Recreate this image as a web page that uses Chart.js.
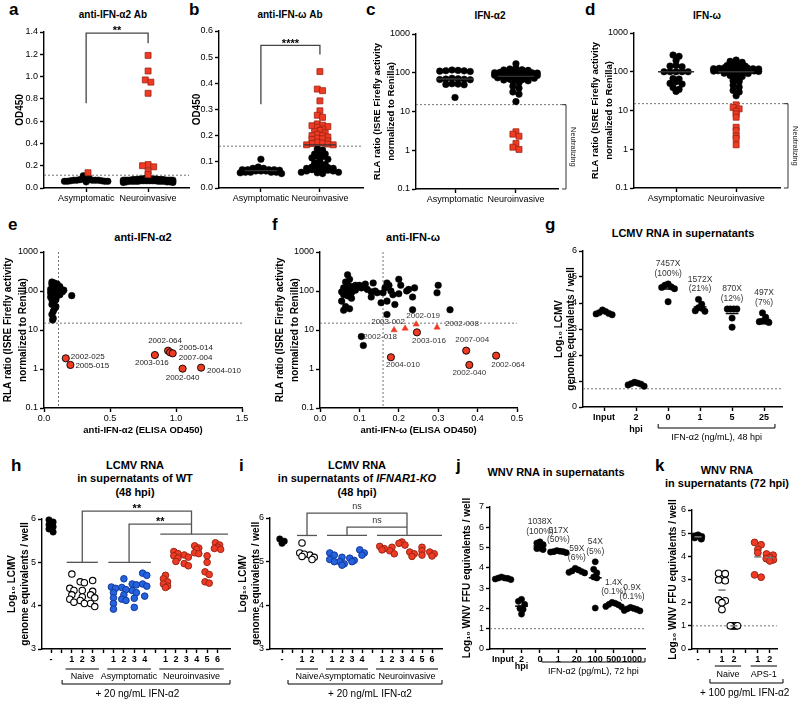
<!DOCTYPE html>
<html>
<head>
<meta charset="utf-8">
<title>Anti-IFN autoantibodies and LCMV / WNV RNA</title>
<script src="https://cdn.jsdelivr.net/npm/chart.js@4.4.1/dist/chart.umd.min.js"></script>
<style>
  body { margin: 0; background: #fff; }
  #fig { position: relative; width: 800px; height: 702px; overflow: hidden; background: #fff;
         font-family: "Liberation Sans", Arial, Helvetica, sans-serif; color: #000; }
  #fig canvas { position: absolute; }
  .lt { position: absolute; font-size: 17px; line-height: 17px; font-weight: bold; }
  .tt { position: absolute; font-size: 11px; line-height: 11px; font-weight: bold; white-space: nowrap; transform: translate(-50%, -50%); }
  .tt.r1 { font-size: 10px; line-height: 10px; }
</style>
</head>
<body>
<div id="fig">
  <div class="lt" style="left:9px;top:1px">a</div>
  <div class="lt" style="left:189px;top:1px">b</div>
  <div class="lt" style="left:366px;top:1px">c</div>
  <div class="lt" style="left:585px;top:1px">d</div>
  <div class="lt" style="left:8px;top:216px">e</div>
  <div class="lt" style="left:272px;top:216px">f</div>
  <div class="lt" style="left:545px;top:216px">g</div>
  <div class="lt" style="left:11px;top:457px">h</div>
  <div class="lt" style="left:239px;top:457px">i</div>
  <div class="lt" style="left:456px;top:457px">j</div>
  <div class="lt" style="left:655px;top:457px">k</div>

  <div class="tt r1" style="left:113px;top:15px">anti-IFN-α2 Ab</div>
  <div class="tt r1" style="left:290px;top:15px">anti-IFN-ω Ab</div>
  <div class="tt r1" style="left:490px;top:16px">IFN-α2</div>
  <div class="tt r1" style="left:707px;top:16px">IFN-ω</div>
  <div class="tt" style="left:143px;top:237px">anti-IFN-α2</div>
  <div class="tt" style="left:413px;top:237px">anti-IFN-ω</div>
  <div class="tt" style="left:683px;top:233px">LCMV RNA in supernatants</div>
  <div class="tt" style="left:135px;top:465px">LCMV RNA</div>
  <div class="tt" style="left:135px;top:478px">in supernatants of WT</div>
  <div class="tt" style="left:135px;top:492px">(48 hpi)</div>
  <div class="tt" style="left:357px;top:465px">LCMV RNA</div>
  <div class="tt" style="left:357px;top:478px">in supernatants of <i>IFNAR1-KO</i></div>
  <div class="tt" style="left:357px;top:492px">(48 hpi)</div>
  <div class="tt" style="left:556px;top:472px">WNV RNA in supernatants</div>
  <div class="tt" style="left:727px;top:470px">WNV RNA</div>
  <div class="tt" style="left:727px;top:483px">in supernatants (72 hpi)</div>
</div>

<script>
// ---------- data ----------
const groupNames = ["Asymptomatic", "Neuroinvasive"];

// a: anti-IFN-α2 ELISA OD450
const aAsymBlack = [0.11, 0.09, 0.08, 0.08, 0.075, 0.075, 0.07, 0.07, 0.07, 0.07, 0.065, 0.065, 0.06, 0.06, 0.06, 0.055, 0.06, 0.07];
const aAsymRed = [0.137];
const aNeuroBlack = [0.09, 0.085, 0.085, 0.08, 0.08, 0.08, 0.08, 0.075, 0.075, 0.075, 0.075, 0.075, 0.07, 0.07, 0.07, 0.07, 0.07, 0.07, 0.07,
  0.065, 0.065, 0.065, 0.065, 0.065, 0.06, 0.06, 0.06, 0.06, 0.06, 0.06, 0.055, 0.055, 0.055, 0.05, 0.05, 0.07, 0.075, 0.08, 0.06, 0.065];
const aNeuroRed = [1.19, 1.05, 0.97, 0.95, 0.85, 0.21, 0.2, 0.19, 0.15, 0.12];
const aCutoff = 0.115;

// b: anti-IFN-ω ELISA OD450
const bAsymBlack = [0.11, 0.08, 0.075, 0.075, 0.07, 0.07, 0.07, 0.068, 0.065, 0.065, 0.065, 0.06, 0.06, 0.06, 0.06, 0.058, 0.055, 0.07];
const bNeuroBlack = [0.15, 0.145, 0.135, 0.13, 0.13, 0.12, 0.12, 0.115, 0.11, 0.1, 0.095, 0.09, 0.085, 0.08, 0.08, 0.078, 0.075, 0.075,
  0.072, 0.07, 0.07, 0.068, 0.065, 0.065, 0.06, 0.06, 0.058, 0.055];
const bNeuroRed = [0.445, 0.378, 0.372, 0.333, 0.295, 0.278, 0.27, 0.245, 0.24, 0.238, 0.235, 0.232, 0.225, 0.22, 0.215, 0.21, 0.205,
  0.2, 0.2, 0.195, 0.19, 0.188, 0.185, 0.18, 0.175, 0.172, 0.17, 0.168, 0.165, 0.165];
const bCutoff = 0.16;

// c: IFN-α2 neutralisation (RLA ratio)
const cAsym = [118, 115, 113, 112, 110, 108, 72, 70, 69, 68, 67, 66, 52, 51, 50, 49, 23];
const cNeuroBlack = [170, 130, 125, 120, 118, 115, 112, 110, 108, 105, 105, 102, 100, 100, 98, 96, 95, 92, 90, 90, 88, 86, 85, 82, 80,
  78, 76, 75, 74, 72, 70, 68, 66, 65, 62, 60, 55, 45, 40, 32, 28, 18];
const cNeuroRed = [3.0, 2.6, 2.3, 1.5, 1.2, 1.05];

// d: IFN-ω neutralisation
const dAsym = [270, 250, 195, 145, 140, 135, 100, 100, 100, 100, 100, 67, 65, 55, 50, 48, 39, 35, 31];
const dNeuroBlack = [200, 185, 175, 160, 150, 145, 140, 135, 130, 130, 128, 125, 122, 120, 120, 118, 116, 115, 113, 112, 110, 110,
  108, 106, 105, 104, 102, 100, 98, 95, 92, 90, 85, 80, 75, 68, 62, 58, 55, 45, 40, 33, 30, 24];
const dNeuroRed = [14, 12, 11, 9.6, 8.2, 6.7, 3.7, 3.0, 2.2, 1.9, 1.3];
const neutCutoff = 15;

// e: anti-IFN-α2 OD vs RLA
const eBlackX = [0.06, 0.08, 0.1, 0.12, 0.07, 0.09, 0.11, 0.13, 0.15, 0.06, 0.08, 0.1, 0.07, 0.06, 0.09, 0.12, 0.14, 0.21, 0.06, 0.08,
  0.07, 0.06, 0.09, 0.08, 0.07, 0.06, 0.07, 0.065, 0.1, 0.11, 0.05, 0.05, 0.07, 0.08, 0.09, 0.06, 0.07, 0.08, 0.1, 0.12, 0.06, 0.07,
  0.05, 0.08, 0.09];
const eBlackY = [170, 160, 150, 130, 120, 110, 100, 100, 105, 100, 90, 85, 80, 75, 70, 80, 95, 76, 60, 55, 50, 45, 40, 35, 30, 25, 20,
  18, 95, 120, 90, 70, 140, 125, 115, 85, 65, 105, 75, 110, 150, 95, 110, 70, 60];
const eRedX = [0.165, 0.2, 0.84, 0.94, 0.955, 0.975, 1.05, 1.19];
const eRedY = [1.88, 1.27, 2.28, 2.95, 2.67, 2.52, 1.02, 1.08];
const eRedIds = ["2002-025", "2005-015", "2003-016", "2002-064", "2005-014", "2007-004", "2002-040", "2004-010"];

// f: anti-IFN-ω OD vs RLA
const fBlackX = [0.07, 0.075, 0.065, 0.07, 0.08, 0.06, 0.075, 0.065, 0.055, 0.085, 0.09, 0.1, 0.08, 0.06, 0.07, 0.055, 0.08, 0.065,
  0.06, 0.075, 0.07, 0.08, 0.09, 0.115, 0.11, 0.12, 0.105, 0.135, 0.13, 0.14, 0.13, 0.145, 0.155, 0.17, 0.175, 0.165, 0.18, 0.17,
  0.17, 0.185, 0.19, 0.2, 0.205, 0.2, 0.22, 0.225, 0.235, 0.24, 0.235, 0.3, 0.297, 0.33, 0.105, 0.11, 0.16];
const fBlackY = [260, 200, 170, 150, 130, 120, 110, 100, 95, 120, 140, 140, 90, 80, 75, 55, 65, 40, 32, 35, 110, 100, 105, 150, 130,
  110, 120, 160, 95, 100, 70, 90, 50, 160, 140, 120, 100, 55, 25, 80, 45, 200, 140, 85, 100, 110, 70, 120, 33, 140, 90, 33, 6.8, 4.0, 90];
const fRedX = [0.246, 0.18, 0.371, 0.379, 0.447];
const fRedY = [8.7, 2.0, 2.95, 1.27, 2.2];
const fRedIds = ["2003-016", "2004-010", "2007-004", "2002-040", "2002-064"];
const fTriX = [0.188, 0.216, 0.244, 0.297];
const fTriY = [10, 11, 14, 11.7];
const fTriIds = ["2002-018", "2003-002", "2002-019", "2002-008"];

// g: LCMV RNA, log10 genome equivalents
const gLabels = ["Input", "2", "0", "1", "5", "25"];
const gInput = [3.55, 3.73, 3.67, 3.63, 3.6, 3.58];
const g2hpi = [0.88, 0.95, 0.9, 0.92, 0.85, 0.8];
const g0 = [4.73, 4.68, 4.6, 4.62, 4.55, 4.05];
const g1 = [4.14, 3.95, 3.8, 3.82, 3.7, 3.68];
const g5 = [3.77, 3.77, 3.77, 3.77, 3.42, 3.07];
const g25 = [3.62, 3.45, 3.3, 3.28, 3.3, 3.25];
const gFold = ["7457X", "1572X", "870X", "497X"];
const gPct = ["(100%)", "(21%)", "(12%)", "(7%)"];
const gLimit = 0.7;

// h: WT cells, 20 ng/mL IFN-α2
const hCtrl = [5.98, 5.93, 5.87, 5.82, 5.77, 5.7];
const hNaive = [[4.73, 4.4, 4.35, 4.25, 4.15, 4.08], [4.55, 4.53, 4.35, 4.2, 4.12, 4.05], [4.58, 4.33, 4.25, 4.18, 4.05, 3.98]];
const hAsym = [[4.43, 4.4, 4.3, 4.18, 4.05, 3.92], [4.62, 4.42, 4.37, 4.25, 4.15, 4.12], [4.5, 4.48, 4.35, 4.3, 4.17, 3.96],
  [4.75, 4.7, 4.5, 4.45, 4.22]];
const hNeuro = [[4.7, 4.62, 4.55, 4.5, 4.45, 4.42], [5.25, 5.2, 5.15, 5.1, 5.02], [5.17, 5.12, 4.97, 4.92], [5.38, 5.33, 5.3, 5.22, 5.2],
  [5.15, 5.0, 4.78, 4.72, 4.55, 4.52], [5.45, 5.4, 5.35, 5.32, 5.3]];

// i: IFNAR1-KO cells
const iCtrl = [5.52, 5.47, 5.42];
const iNaive = [[5.43, 5.2, 5.17, 5.12], [5.15, 5.1, 5.05]];
const iAsym = [[5.2, 5.15, 5.05, 5.0], [5.1, 5.0, 4.95, 4.92], [5.08, 5.03, 5.0], [5.27, 5.2, 5.15]];
const iNeuro = [[5.35, 5.3, 5.27], [5.33, 5.25, 5.18], [5.45, 5.42, 5.38], [5.22, 5.18, 5.12], [5.33, 5.25, 5.15], [5.22, 5.18, 5.13]];

// j: WNV RNA, log10 FFU equivalents
const jLabels = ["Input", "2", "0", "1", "20", "100", "500", "1000"];
const jInput = [3.55, 3.5, 3.48, 3.45, 3.42, 3.5];
const j2hpi = [2.45, 2.35, 2.2, 2.0, 1.95, 1.72];
const j0 = [5.28, 5.22, 5.15, 4.97, 4.95, 4.9];
const j1 = [4.85, 4.82, 4.8, 4.8, 4.78, 4.75];
const j20 = [3.98, 3.9, 3.85, 3.82, 3.78, 3.75];
const j100 = [4.3, 3.93, 3.75, 3.55, 3.5, 2.02];
const j500 = [2.3, 2.25, 2.2, 2.18, 2.1, 2.08];
const j1000 = [2.05, 2.0, 1.98, 1.95, 1.9, 1.88];
const jFold = ["1038X", "517X", "59X", "54X", "1.4X", "0.9X"];
const jPct = ["(100%)", "(50%)", "(6%)", "(5%)", "(0.1%)", "(0.1%)"];
const jLimit = 1.0;

// k: WNV RNA, 100 pg/mL IFN-α2
const kCtrl = [4.92, 4.88, 4.85, 4.8, 4.75];
const kNaive = [[3.27, 3.25, 2.98, 2.95, 2.12, 2.08, 2.0, 1.7], [1.0, 1.0, 1.0, 1.0, 1.0, 1.0]];
const kAps = [[4.6, 4.5, 4.3, 4.15, 3.2, 3.1], [4.1, 4.05, 3.95, 3.9, 3.85, 3.8]];
const kLimit = 1.0;

// ---------- helpers ----------
const FONT = '"Liberation Sans", Arial, Helvetica, sans-serif';
const NARROW = '"Liberation Sans Narrow", "Liberation Sans", Arial, sans-serif';
const RED = "#ef3b24", RED_EDGE = "#9c2414", BLUE = "#2462e0", BLUE_EDGE = "#123a99";
const LOG_TICKS = [0.1, 1, 10, 100, 1000];
const fig = document.getElementById("fig");
Chart.defaults.font.family = FONT;

function range(a, b, s) { const o = []; for (let v = a; v <= b + 1e-9; v += s) o.push(+v.toFixed(6)); return o; }
function mean(a) { return a.reduce((s, v) => s + v, 0) / a.length; }
function median(a) {
  const s = [...a].sort((p, q) => p - q), n = s.length;
  return n % 2 ? s[(n - 1) / 2] : (s[n / 2 - 1] + s[n / 2]) / 2;
}

// spread points of one group sideways, Prism style (rows of similar values)
function swarm(vals, cx, dx, dy, maxW, log) {
  const v = vals.map(y => ({ y, k: log ? Math.log10(y) : y })).sort((p, q) => q.k - p.k);
  const out = [];
  let i = 0;
  while (i < v.length) {
    let j = i;
    while (j < v.length && v[i].k - v[j].k <= dy) j++;
    const n = j - i;
    let step = dx;
    if (maxW && n > 1 && (n - 1) * dx > maxW) step = maxW / (n - 1);
    const slots = [...Array(n).keys()].map(m => (m - (n - 1) / 2) * step).sort((p, q) => Math.abs(p) - Math.abs(q));
    for (let m = 0; m < n; m++) out.push({ x: cx + slots[m], y: v[i + m].y });
    i = j;
  }
  return out;
}
const pairs = (xs, ys) => xs.map((x, i) => ({ x, y: ys[i] }));

function dot(data, fill, edge, r, w, style) {
  return { data, pointStyle: style || "circle", pointRadius: r, pointHoverRadius: r, backgroundColor: fill, borderColor: edge, borderWidth: w };
}
const blackDots = (data, r) => dot(data, "#000", "#000", r || 3.3, 0.5);
const redSquares = data => dot(data, RED, RED_EDGE, 4.2, 0.8, "rect");

function seg(ctx, pts, color, w, dash) {
  ctx.save();
  ctx.strokeStyle = color; ctx.lineWidth = w; ctx.setLineDash(dash || []);
  ctx.beginPath();
  pts.forEach((p, i) => (i ? ctx.lineTo(p[0], p[1]) : ctx.moveTo(p[0], p[1])));
  ctx.stroke();
  ctx.restore();
}
function txt(ctx, s, x, y, font, color, align, base, rot) {
  ctx.save();
  ctx.font = font; ctx.fillStyle = color || "#000";
  ctx.textAlign = align || "center"; ctx.textBaseline = base || "middle";
  ctx.translate(x, y);
  if (rot) ctx.rotate(rot);
  ctx.fillText(s, 0, 0);
  ctx.restore();
}
const dashed = (ctx, x1, y1, x2, y2) => seg(ctx, [[x1, y1], [x2, y2]], "#666", 0.9, [2, 2]);

function panel(s) {
  const [bx, by, bw, bh] = s.box;
  const [l, t, r, b] = s.plot;
  const cv = document.createElement("canvas");
  cv.width = bw; cv.height = bh;
  cv.style.left = bx + "px"; cv.style.top = by + "px";
  fig.appendChild(cv);
  const yt = s.yTitle;
  const yLeft = yt.x - yt.size * yt.lh / 2;
  const yW = l - yLeft;
  const xH = s.xTitle ? s.xTitle.y + s.xTitle.size * 0.6 - b : s.xH;
  const pad = { left: yLeft - bx, top: t - by, right: bx + bw - r, bottom: by + bh - b - xH };
  const axis = () => ({
    border: { display: true, color: "#000", width: 1.4 },
    grid: { display: true, drawOnChartArea: false, drawTicks: true, tickLength: 4, tickWidth: 1.4, tickColor: "#000" }
  });
  const scales = {
    x: Object.assign(axis(), {
      type: "linear", min: s.x.min, max: s.x.max,
      afterBuildTicks: sc => { sc.ticks = s.x.ticks.map(v => ({ value: v })); },
      afterFit: sc => { sc.height = xH; },
      ticks: { autoSkip: false, maxRotation: 0, minRotation: 0, padding: 1, color: "#000",
        font: { family: FONT, size: 9, weight: s.x.bold ? "bold" : "normal" }, callback: s.x.label },
      title: s.xTitle
        ? { display: true, text: s.xTitle.text, color: "#000", padding: 0, font: { family: FONT, size: s.xTitle.size, weight: "bold", lineHeight: 1.2 } }
        : { display: false }
    }),
    y: Object.assign(axis(), {
      type: s.y.log ? "logarithmic" : "linear", min: s.y.min, max: s.y.max,
      afterBuildTicks: sc => { sc.ticks = s.y.ticks.map(v => ({ value: v })); },
      afterFit: sc => { sc.width = yW; },
      ticks: { autoSkip: false, padding: 2, color: "#000", font: { family: FONT, size: 9 }, callback: s.y.label },
      title: { display: true, text: yt.text, color: "#000", padding: 0, font: { family: FONT, size: yt.size, weight: "bold", lineHeight: yt.lh } }
    })
  };
  const hook = fn => chart => {
    if (!fn) return;
    const sx = chart.scales.x, sy = chart.scales.y;
    chart.ctx.save();
    fn(chart.ctx, v => sx.getPixelForValue(v), v => sy.getPixelForValue(v), chart.chartArea);
    chart.ctx.restore();
  };
  return new Chart(cv, {
    type: "scatter",
    data: { datasets: s.datasets.map(d => Object.assign({ clip: false }, d)) },
    options: {
      responsive: false, animation: false, devicePixelRatio: 1, events: [],
      layout: { padding: pad },
      plugins: { legend: { display: false }, tooltip: { enabled: false } },
      scales
    },
    plugins: [{ id: "marks", beforeDatasetsDraw: hook(s.under), afterDraw: hook(s.over) }]
  });
}

function medianBars(ctx, X, Y, groups, w) {
  groups.forEach((vals, i) => {
    const m = median(vals);
    seg(ctx, [[X(i - w / 2), Y(m)], [X(i + w / 2), Y(m)]], "#333", 1.3);
  });
}
function meanBars(ctx, X, Y, groups, w, color) {
  groups.forEach((vals, i) => {
    const m = mean(vals);
    seg(ctx, [[X(i - w / 2), Y(m)], [X(i + w / 2), Y(m)]], color, 1.5);
  });
}
function neutralBracket(ctx, Y, A) {
  const yN = Y(neutCutoff), y0 = Y(0.1), x = A.right + 8;
  seg(ctx, [[A.right + 4, yN], [x, yN], [x, y0], [A.right + 4, y0]], "#333", 1);
  txt(ctx, "Neutralizing", A.right + 15, (yN + y0) / 2, "7.5px " + FONT, "#222", "center", "middle", Math.PI / 2);
}
function groupAxis(ctx, X, A, g) {
  g.names.forEach((name, i) => {
    const a = X(g.starts[i] - 0.6), b = X(g.starts[i] + g.sizes[i] - 0.4);
    seg(ctx, [[a, A.bottom + g.lineY], [b, A.bottom + g.lineY]], "#000", 1);
    txt(ctx, name, (a + b) / 2, A.bottom + g.nameY, "9px " + FONT, "#000");
  });
  const y = A.bottom + g.brY, x1 = X(g.brFrom), x2 = X(g.brTo);
  seg(ctx, [[x1, y - 4], [x1, y], [x2, y], [x2, y - 4]], "#000", 1);
  txt(ctx, g.brText, X(g.brTextX), A.bottom + g.brTextY, "10px " + FONT, "#000");
}
function groupStarts(sizes) {
  const starts = [];
  let p = 2;
  sizes.forEach(n => { starts.push(p); p += n + 1; });
  return starts;
}
function foldNotes(ctx, X, Y, groups, first, fold, pct) {
  fold.forEach((f, k) => {
    const i = k + first, top = Y(Math.max(...groups[i]));
    txt(ctx, f, X(i), top - 20, "8.5px " + NARROW, "#333");
    txt(ctx, pct[k], X(i), top - 10.5, "8.5px " + NARROW, "#333");
  });
}
const nameLabel = v => groupNames[v];
const logLabel = v => String(v);

// ---------- a ----------
panel({
  box: [0, 18, 200, 196], plot: [44, 32, 189, 188],
  yTitle: { text: "OD450", x: 20, size: 10, lh: 1.2 }, xH: 20,
  x: { min: -0.68, max: 1.66, ticks: [0, 1], label: nameLabel },
  y: { min: 0, max: 1.4, ticks: range(0, 1.4, 0.2), label: v => v.toFixed(1) },
  datasets: [
    redSquares(swarm(aNeuroRed, 1, 0.09, 0.0225, 0.7)),
    redSquares(swarm(aAsymRed, 0.03, 0.09, 0.0225, 0.7)),
    blackDots(swarm(aAsymBlack, 0, 0.09, 0.0225, 0.7)),
    blackDots(swarm(aNeuroBlack, 1, 0.09, 0.0225, 0.8))
  ],
  under(ctx, X, Y, A) { dashed(ctx, A.left, Y(aCutoff), A.right, Y(aCutoff)); },
  over(ctx, X, Y, A) {
    const x0 = X(0), x1 = X(1), yt = Y(1.39);
    seg(ctx, [[x0, Y(0.76)], [x0, yt], [x1, yt], [x1, Y(1.3)]], "#444", 1.3);
    txt(ctx, "**", (x0 + x1) / 2, yt + 1, "bold 11px " + FONT, "#000", "center", "alphabetic");
  }
});

// ---------- b ----------
panel({
  box: [180, 18, 200, 196], plot: [219, 31, 363, 188],
  yTitle: { text: "OD450", x: 197, size: 10, lh: 1.2 }, xH: 20,
  x: { min: -0.71, max: 1.73, ticks: [0, 1], label: nameLabel },
  y: { min: 0, max: 0.6, ticks: range(0, 0.6, 0.1), label: v => v.toFixed(1) },
  datasets: [
    redSquares(swarm(bNeuroRed, 1, 0.09, 0.012, 0.75)),
    blackDots(swarm(bAsymBlack, 0, 0.09, 0.012, 0.7)),
    blackDots(swarm(bNeuroBlack, 1, 0.09, 0.012, 0.75))
  ],
  under(ctx, X, Y, A) { dashed(ctx, A.left, Y(bCutoff), A.right, Y(bCutoff)); },
  over(ctx, X, Y, A) {
    medianBars(ctx, X, Y, [bAsymBlack, [...bNeuroBlack, ...bNeuroRed]], 0.55);
    const x0 = X(0), x1 = X(1), yt = Y(0.545);
    seg(ctx, [[x0, Y(0.32)], [x0, yt], [x1, yt], [x1, Y(0.51)]], "#444", 1.3);
    txt(ctx, "****", (x0 + x1) / 2, yt + 2, "bold 11px " + FONT, "#000", "center", "alphabetic");
  }
});

// ---------- c ----------
const rlaTitle = ["RLA ratio (ISRE Firefly activity", "normalized to Renilla)"];
panel({
  box: [360, 18, 220, 196], plot: [416, 34, 558, 189],
  yTitle: { text: rlaTitle, x: 377, size: 9.5, lh: 1.55 }, xH: 20,
  x: { min: -0.64, max: 1.69, ticks: [0, 1], label: nameLabel },
  y: { log: true, min: 0.1, max: 1000, ticks: LOG_TICKS, label: logLabel },
  datasets: [
    redSquares(swarm(cNeuroRed, 1, 0.1, 0.06, 0.7, true)),
    blackDots(swarm(cAsym, 0, 0.1, 0.06, 0.7, true)),
    blackDots(swarm(cNeuroBlack, 1, 0.1, 0.06, 0.7, true))
  ],
  under(ctx, X, Y, A) { dashed(ctx, A.left, Y(neutCutoff), A.right + 8, Y(neutCutoff)); },
  over(ctx, X, Y, A) {
    medianBars(ctx, X, Y, [cAsym, [...cNeuroBlack, ...cNeuroRed]], 0.6);
    neutralBracket(ctx, Y, A);
  }
});

// ---------- d ----------
panel({
  box: [578, 18, 222, 196], plot: [634, 33, 780, 188],
  yTitle: { text: rlaTitle, x: 595, size: 9.5, lh: 1.55 }, xH: 20,
  x: { min: -0.7, max: 1.73, ticks: [0, 1], label: nameLabel },
  y: { log: true, min: 0.1, max: 1000, ticks: LOG_TICKS, label: logLabel },
  datasets: [
    redSquares(swarm(dNeuroRed, 1, 0.1, 0.06, 0.7, true)),
    blackDots(swarm(dAsym, 0, 0.1, 0.06, 0.7, true)),
    blackDots(swarm(dNeuroBlack, 1, 0.1, 0.06, 0.75, true))
  ],
  under(ctx, X, Y, A) { dashed(ctx, A.left, Y(neutCutoff), A.right + 8, Y(neutCutoff)); },
  over(ctx, X, Y, A) {
    medianBars(ctx, X, Y, [dAsym, [...dNeuroBlack, ...dNeuroRed]], 0.6);
    neutralBracket(ctx, Y, A);
  }
});

// ---------- e ----------
const eLabelPos = [[5, -2, "left"], [5, 1, "left"], [-3, 8, "center"], [-3, -10, "center"], [9, -5, "left"], [6, 4, "left"], [0, 9, "center"], [6, 3, "left"]];
panel({
  box: [0, 240, 265, 205], plot: [44, 252, 242, 408],
  yTitle: { text: rlaTitle, x: 8, size: 10, lh: 1.5 },
  xTitle: { text: "anti-IFN-α2 (ELISA OD450)", y: 430, size: 9.5 },
  x: { min: 0, max: 1.5, ticks: [0, 0.5, 1, 1.5], label: v => v.toFixed(1) },
  y: { log: true, min: 0.1, max: 1000, ticks: LOG_TICKS, label: logLabel },
  datasets: [
    dot(pairs(eRedX, eRedY), RED, "#000", 3.6, 0.9),
    blackDots(pairs(eBlackX, eBlackY))
  ],
  under(ctx, X, Y, A) {
    dashed(ctx, X(aCutoff - 0.005), A.top, X(aCutoff - 0.005), A.bottom);
    dashed(ctx, A.left, Y(neutCutoff), A.right, Y(neutCutoff));
  },
  over(ctx, X, Y, A) {
    eRedIds.forEach((id, i) => {
      const [dx, dy, al] = eLabelPos[i];
      txt(ctx, id, X(eRedX[i]) + dx, Y(eRedY[i]) + dy, "8px " + FONT, "#222", al);
    });
  }
});

// ---------- f ----------
const fRedPos = [[12, 8], [12, 8], [6, -11], [0, 8], [12, 9]];
const fTriPos = [[-14, 7, "center"], [-17, -7, "center"], [7, -9, "center"], [8, -4, "left"]];
panel({
  box: [268, 240, 262, 205], plot: [320, 252, 517, 408],
  yTitle: { text: rlaTitle, x: 280, size: 10, lh: 1.5 },
  xTitle: { text: "anti-IFN-ω (ELISA OD450)", y: 430, size: 9.5 },
  x: { min: 0, max: 0.5, ticks: range(0, 0.5, 0.1), label: v => v.toFixed(1) },
  y: { log: true, min: 0.1, max: 1000, ticks: LOG_TICKS, label: logLabel },
  datasets: [
    dot(pairs(fRedX, fRedY), RED, "#000", 3.6, 0.9),
    dot(pairs(fTriX, fTriY), RED, RED, 3.6, 0.5, "triangle"),
    blackDots(pairs(fBlackX, fBlackY))
  ],
  under(ctx, X, Y, A) {
    dashed(ctx, X(bCutoff), A.top, X(bCutoff), A.bottom);
    dashed(ctx, A.left, Y(neutCutoff), A.right, Y(neutCutoff));
  },
  over(ctx, X, Y, A) {
    fRedIds.forEach((id, i) => txt(ctx, id, X(fRedX[i]) + fRedPos[i][0], Y(fRedY[i]) + fRedPos[i][1], "8px " + FONT, "#333"));
    fTriIds.forEach((id, i) => txt(ctx, id, X(fTriX[i]) + fTriPos[i][0], Y(fTriY[i]) + fTriPos[i][1], "8px " + FONT, "#333", fTriPos[i][2]));
  }
});

// ---------- g ----------
const gGroups = [gInput, g2hpi, g0, g1, g5, g25];
panel({
  box: [540, 240, 260, 205], plot: [583, 251, 782, 407],
  yTitle: { text: ["Log₁₀ LCMV", "genome equivalents / well"], x: 559, size: 10, lh: 1.25 }, xH: 16,
  x: { min: -0.66, max: 5.56, ticks: range(0, 5, 1), label: v => gLabels[v], bold: true },
  y: { min: 0, max: 6, ticks: range(0, 6, 1), label: v => String(v) },
  datasets: gGroups.map((vals, i) => blackDots(swarm(vals, i, 0.1, 0.2, 0.6), 3.2)),
  under(ctx, X, Y, A) { dashed(ctx, A.left, Y(gLimit), A.right, Y(gLimit)); },
  over(ctx, X, Y, A) {
    meanBars(ctx, X, Y, gGroups, 0.4, "#000");
    foldNotes(ctx, X, Y, gGroups, 2, gFold, gPct);
    txt(ctx, "hpi", X(1), A.bottom + 23, "bold 9px " + FONT);
    const y = A.bottom + 21, x1 = X(1.69), x2 = X(5.34);
    seg(ctx, [[x1, y - 4], [x1, y], [x2, y], [x2, y - 4]], "#000", 1);
    txt(ctx, "IFN-α2 (ng/mL), 48 hpi", (x1 + x2) / 2, A.bottom + 31, "9px " + FONT);
  }
});

// ---------- h ----------
function groupedPanel(spec) {
  const starts = groupStarts(spec.sets.map(s => s.length));
  const labels = { 0: "-" };
  const datasets = [];
  spec.sets.forEach((set, g) => set.forEach((vals, m) => {
    const p = starts[g] + m;
    labels[p] = String(m + 1);
    datasets.push(spec.style[g](swarm(vals, p, spec.dx, spec.dy, spec.maxW)));
  }));
  datasets.push(blackDots(swarm(spec.ctrl, 0, spec.dx, spec.dy, spec.maxW), spec.r));
  const last = starts[starts.length - 1] + spec.sets[spec.sets.length - 1].length - 1;
  return { starts, labels, datasets, last };
}
const whiteDots = r => d => dot(d, "#fff", "#000", r, 1.1);
const blueDots = r => d => dot(d, BLUE, BLUE_EDGE, r, 1);
const redDots = r => d => dot(d, RED, RED_EDGE, r, 1);
const lcmvTitle = ["Log₁₀ LCMV", "genome equivalents / well"];

const H = groupedPanel({ sets: [hNaive, hAsym, hNeuro], ctrl: hCtrl, style: [whiteDots(3.2), blueDots(3.3), redDots(3.3)], dx: 0.4, dy: 0.08, maxW: 0.6, r: 3.2 });
panel({
  box: [0, 450, 240, 252], plot: [42, 519, 230, 649],
  yTitle: { text: lcmvTitle, x: 12, size: 10, lh: 1.3 }, xH: 16,
  x: { min: -0.87, max: 17.2, ticks: range(0, H.last, 1), label: v => H.labels[v] || "", bold: true },
  y: { min: 3, max: 6, ticks: range(3, 6, 1), label: v => String(v) },
  datasets: H.datasets,
  over(ctx, X, Y, A) {
    const [sN, sA, sR] = H.starts;
    const cN = X(sN + 1), cA = X(sA + 1.5), cR = X(sR + 2.5);
    seg(ctx, [[X(sN - 0.5), Y(5)], [X(sN + 2.5), Y(5)]], "#555", 1.3);
    seg(ctx, [[X(sA - 0.5), Y(5)], [X(sA + 3.6), Y(5)]], "#555", 1.3);
    seg(ctx, [[X(sR - 0.5), Y(5.65)], [X(sR + 6), Y(5.65)]], "#555", 1.3);
    seg(ctx, [[cN, Y(5)], [cN, Y(6.18)], [cR, Y(6.18)], [cR, Y(5.65)]], "#555", 1.3);
    seg(ctx, [[cA, Y(5)], [cA, Y(5.88)], [cR, Y(5.88)]], "#555", 1.3);
    txt(ctx, "**", (cN + cR) / 2, Y(6.18) + 1, "bold 11px " + FONT, "#000", "center", "alphabetic");
    txt(ctx, "**", (cA + cR) / 2, Y(5.88) + 1, "bold 11px " + FONT, "#000", "center", "alphabetic");
    groupAxis(ctx, X, A, { names: ["Naive", "Asymptomatic", "Neuroinvasive"], starts: H.starts, sizes: [3, 4, 6],
      lineY: 20, nameY: 28, brY: 35, brFrom: 1.06, brTo: 17.2, brText: "+ 20 ng/mL IFN-α2", brTextX: 8.3, brTextY: 45 });
  }
});

// ---------- i ----------
const I = groupedPanel({ sets: [iNaive, iAsym, iNeuro], ctrl: iCtrl, style: [whiteDots(3.2), blueDots(3.3), redDots(3.3)], dx: 0.45, dy: 0.08, maxW: 0.6, r: 3.2 });
panel({
  box: [232, 450, 218, 252], plot: [270, 518, 442, 649],
  yTitle: { text: lcmvTitle, x: 243, size: 10, lh: 1.3 }, xH: 16,
  x: { min: -1.2, max: 16, ticks: range(0, I.last, 1), label: v => I.labels[v] || "", bold: true },
  y: { min: 3, max: 6, ticks: range(3, 6, 1), label: v => String(v) },
  datasets: I.datasets,
  over(ctx, X, Y, A) {
    const [sN, sA, sR] = I.starts;
    const cN = X(sN + 0.5), cA = X(sA + 1.5), cR = X(sR + 2.5), yl = Y(5.6);
    seg(ctx, [[X(sN - 0.5), yl], [X(sN + 1.5), yl]], "#555", 1.3);
    seg(ctx, [[X(sA - 0.5), yl], [X(sA + 3.5), yl]], "#555", 1.3);
    seg(ctx, [[X(sR - 0.5), yl], [X(sR + 6), yl]], "#555", 1.3);
    seg(ctx, [[cN, yl], [cN, Y(6.11)], [cR, Y(6.11)], [cR, yl]], "#555", 1.3);
    seg(ctx, [[cA, yl], [cA, Y(5.79)], [cR, Y(5.79)]], "#555", 1.3);
    txt(ctx, "ns", (cN + cR) / 2, Y(6.11) - 4, "9px " + FONT, "#333", "center", "alphabetic");
    txt(ctx, "ns", (cA + cR) / 2, Y(5.79) - 4, "9px " + FONT, "#333", "center", "alphabetic");
    groupAxis(ctx, X, A, { names: ["Naive", "Asymptomatic", "Neuroinvasive"], starts: I.starts, sizes: [2, 4, 6],
      lineY: 20, nameY: 28, brY: 35, brFrom: 0.6, brTo: 16, brText: "+ 20 ng/mL IFN-α2", brTextX: 8.8, brTextY: 45 });
  }
});

// ---------- j ----------
const jGroups = [jInput, j2hpi, j0, j1, j20, j100, j500, j1000];
panel({
  box: [450, 450, 200, 252], plot: [490, 507, 645, 649],
  yTitle: { text: "Log₁₀ WNV FFU equivalents / well", x: 467, size: 10, lh: 1.2 }, xH: 16,
  x: { min: -0.71, max: 7.7, ticks: range(0, 7, 1), label: v => jLabels[v], bold: true },
  y: { min: 0, max: 7, ticks: range(0, 7, 1), label: v => String(v) },
  datasets: jGroups.map((vals, i) => blackDots(swarm(vals, i, 0.17, 0.25, 0.9), 3.1)),
  under(ctx, X, Y, A) { dashed(ctx, A.left, Y(jLimit), A.right, Y(jLimit)); },
  over(ctx, X, Y, A) {
    meanBars(ctx, X, Y, jGroups, 0.7, "#000");
    foldNotes(ctx, X, Y, jGroups, 2, jFold, jPct);
    txt(ctx, "hpi", X(1), A.bottom + 18, "bold 9px " + FONT);
    const y = A.bottom + 13, x1 = X(2.1), x2 = X(7.7);
    seg(ctx, [[x1, y - 4], [x1, y], [x2, y], [x2, y - 4]], "#000", 1);
    txt(ctx, "IFN-α2 (pg/mL), 72 hpi", (x1 + x2) / 2, A.bottom + 23, "9px " + FONT);
  }
});

// ---------- k ----------
const K = groupedPanel({ sets: [kNaive, kAps], ctrl: kCtrl, style: [whiteDots(3.3), redDots(3.4)], dx: 0.55, dy: 0.12, maxW: 0.6, r: 3.3 });
panel({
  box: [650, 450, 150, 252], plot: [692, 510, 777, 649],
  yTitle: { text: "Log₁₀ WNV FFU equivalents / well", x: 673, size: 10, lh: 1.2 }, xH: 16,
  x: { min: -0.5, max: 6.6, ticks: range(0, K.last, 1), label: v => K.labels[v] || "", bold: true },
  y: { min: 0, max: 6, ticks: range(0, 6, 1), label: v => String(v) },
  datasets: K.datasets,
  under(ctx, X, Y, A) { dashed(ctx, A.left, Y(kLimit), A.right, Y(kLimit)); },
  over(ctx, X, Y, A) {
    const sets = [kCtrl, null, ...kNaive, null, ...kAps];
    sets.forEach((vals, p) => {
      if (!vals) return;
      const m = mean(vals);
      seg(ctx, [[X(p - 0.3), Y(m)], [X(p + 0.3), Y(m)]], "#777", 1.5);
    });
    groupAxis(ctx, X, A, { names: ["Naive", "APS-1"], starts: K.starts, sizes: [2, 2],
      lineY: 17, nameY: 26, brY: 34, brFrom: 1.0, brTo: 7.1, brText: "+ 100 pg/mL IFN-α2", brTextX: 3.9, brTextY: 44 });
  }
});
</script>
</body>
</html>
